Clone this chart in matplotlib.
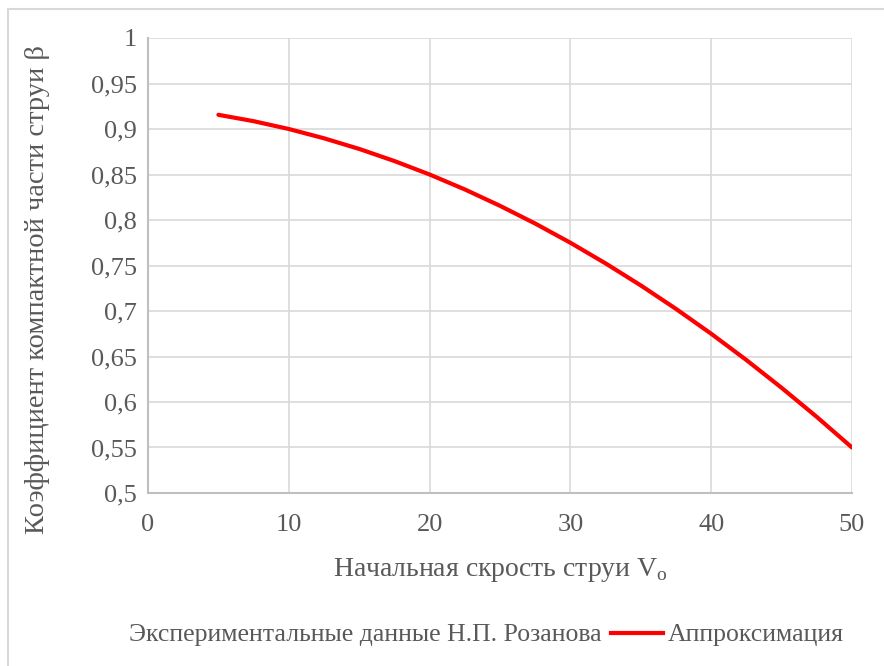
import matplotlib.pyplot as plt
from matplotlib.lines import Line2D
from matplotlib.patches import Rectangle

# approximation curve
v0 = [5, 7.5, 10, 12.5, 15, 17.5, 20, 22.5, 25, 27.5, 30,
      32.5, 35, 37.5, 40, 42.5, 45, 47.5, 50]
beta = [0.9156, 0.9086, 0.900, 0.8898, 0.8781, 0.8648, 0.850, 0.8336, 0.8156, 0.7961, 0.775,
        0.7523, 0.7281, 0.7023, 0.675, 0.6461, 0.6156, 0.5836, 0.550]

x_ticks = [0, 10, 20, 30, 40, 50]
y_ticks = [0.5, 0.55, 0.6, 0.65, 0.7, 0.75, 0.8, 0.85, 0.9, 0.95, 1.0]
y_tick_labels = ['0,5', '0,55', '0,6', '0,65', '0,7', '0,75', '0,8', '0,85', '0,9', '0,95', '1']

plt.rcParams['font.family'] = ['Liberation Serif', 'DejaVu Serif']
plt.rcParams['mathtext.fontset'] = 'custom'
plt.rcParams['mathtext.rm'] = 'Liberation Serif'

text_color = '#595959'
grid_color = '#D9D9D9'
axis_color = '#BFBFBF'

W, H = 884, 666
fig = plt.figure(figsize=(W / 100, H / 100), dpi=100)

# chart-area border (cropped on right and bottom)
fig.patches.append(Rectangle((8 / W, -0.1), 1.2, 1 - 9 / H + 0.1, transform=fig.transFigure,
                             fill=False, edgecolor=grid_color, linewidth=1.5))

ax = fig.add_axes([148 / W, 1 - 493 / H, (852 - 148) / W, (493 - 38) / H])
ax.plot(v0, beta, color='#FF0000', linewidth=3, solid_capstyle='round', zorder=3)

ax.set_xlim(0, 50)
ax.set_ylim(0.5, 1.0)
ax.set_xticks(x_ticks)
ax.set_yticks(y_ticks)
ax.set_yticklabels(y_tick_labels)
ax.grid(True, color=grid_color, linewidth=1.2)
ax.set_axisbelow(True)

for side in ['top', 'right']:
    ax.spines[side].set_visible(False)
for side in ['left', 'bottom']:
    ax.spines[side].set_color(axis_color)
    ax.spines[side].set_linewidth(1.5)

ax.tick_params(length=0, labelsize=19, colors=text_color)
ax.tick_params(axis='x', pad=15)
ax.tick_params(axis='y', pad=8)
ax.set_xlabel('Начальная скрость струи V$_\\mathrm{o}$', fontsize=20, color=text_color)
ax.set_ylabel('Коэффициент компактной части струи β', fontsize=20.5, color=text_color)
ax.xaxis.set_label_coords(0.5, (493 - 556) / 455)
ax.yaxis.set_label_coords((50 - 148) / 704, (493 - 290) / 455)

handles = [Line2D([], [], linestyle='none'),
           Line2D([], [], color='#FF0000', linewidth=3)]
labels = ['Экспериментальные данные Н.П. Розанова', 'Аппроксимация']
leg = fig.legend(handles, labels, loc='center', bbox_to_anchor=(458 / W, 1 - 635 / H),
                 ncol=2, frameon=False, fontsize=18.5, handlelength=2.0, handletextpad=0.2,
                 columnspacing=0.4, borderpad=0, borderaxespad=0)
for t in leg.get_texts():
    t.set_color(text_color)

fig.savefig('out.png', dpi=100)
